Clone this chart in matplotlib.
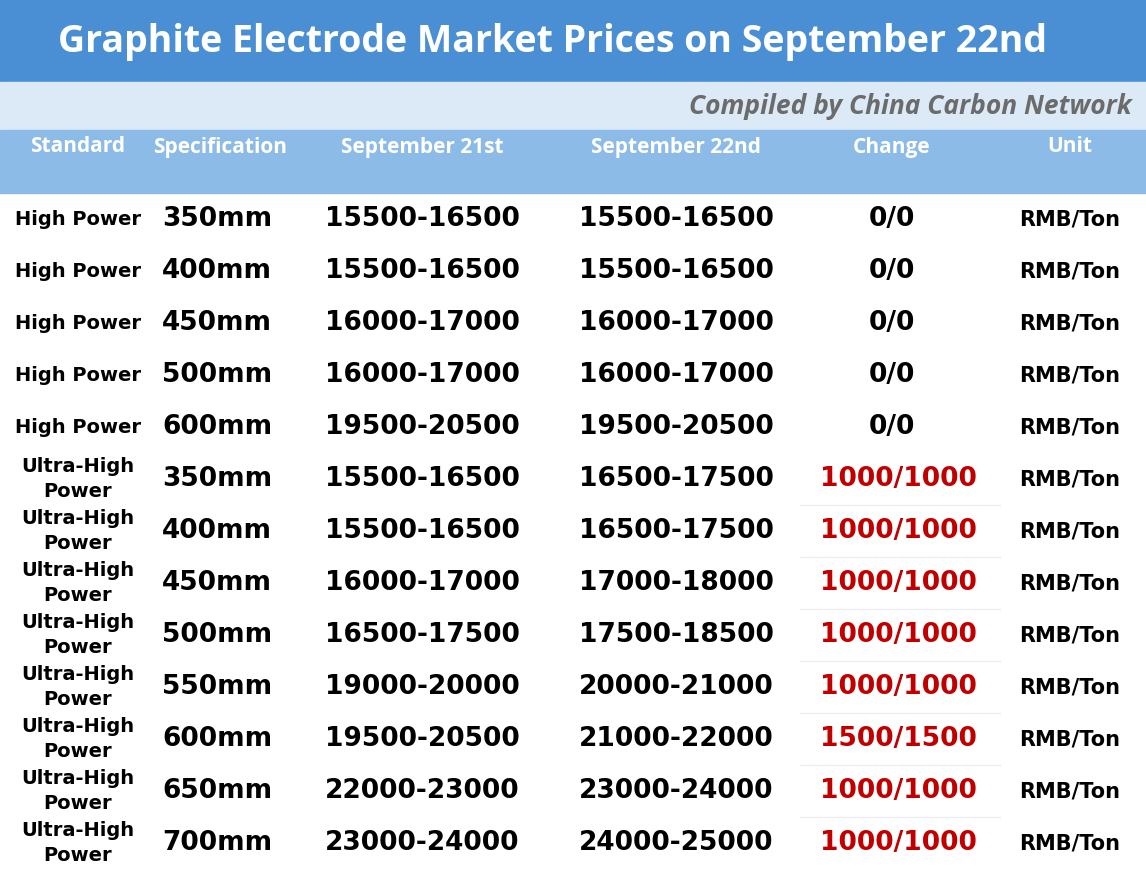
import matplotlib.pyplot as plt
from matplotlib.patches import Rectangle

title = "Graphite Electrode Market Prices on September 22nd"
subtitle = "Compiled by China Carbon Network"
headers = ["Standard", "Specification", "September 21st", "September 22nd", "Change", "Unit"]
standards = ["High Power"] * 5 + ["Ultra-High\nPower"] * 8
specs = ["350mm", "400mm", "450mm", "500mm", "600mm",
         "350mm", "400mm", "450mm", "500mm", "550mm", "600mm", "650mm", "700mm"]
sep21 = ["15500-16500", "15500-16500", "16000-17000", "16000-17000", "19500-20500",
         "15500-16500", "15500-16500", "16000-17000", "16500-17500", "19000-20000",
         "19500-20500", "22000-23000", "23000-24000"]
sep22 = ["15500-16500", "15500-16500", "16000-17000", "16000-17000", "19500-20500",
         "16500-17500", "16500-17500", "17000-18000", "17500-18500", "20000-21000",
         "21000-22000", "23000-24000", "24000-25000"]
change = ["0/0"] * 5 + ["1000/1000"] * 5 + ["1500/1500"] + ["1000/1000"] * 2
unit = ["RMB/Ton"] * 13

W, H = 1146, 872
fig = plt.figure(figsize=(W / 100, H / 100), dpi=100)
ax = fig.add_axes([0, 0, 1, 1])
ax.set_xlim(0, W)
ax.set_ylim(H, 0)
ax.axis("off")

ax.add_patch(Rectangle((0, 0), W, 82, color="#4a8fd4"))
ax.add_patch(Rectangle((0, 82), W, 48, color="#dce9f6"))
ax.add_patch(Rectangle((0, 130), W, 63, color="#8dbbe8"))
ax.text(552, 42, title, ha="center", va="center", color="white",
        fontsize=27, fontweight="bold", family="Open Sans")
ax.text(1132, 106, subtitle, ha="right", va="center", color="#6b6b6b",
        fontsize=19, fontweight="bold", style="italic", family="Open Sans")

col_x = [78, 220, 422, 676, 892, 1070]
for x, h in zip(col_x, headers):
    ax.text(x, 147, h, ha="center", va="center", color="white",
            fontsize=15, fontweight="bold", family="Open Sans")

y0, rh = 193, 52
for i in range(len(specs)):
    yc = y0 + rh * i + rh / 2
    ax.text(col_x[0], yc, standards[i], ha="center", va="center",
            fontsize=14, fontweight="bold", linespacing=1.45, family="DejaVu Sans")
    ax.text(col_x[1] - 3, yc, specs[i], ha="center", va="center",
            fontsize=19, fontweight="bold", family="DejaVu Sans")
    ax.text(col_x[2], yc, sep21[i], ha="center", va="center",
            fontsize=19, fontweight="bold", family="DejaVu Sans")
    ax.text(col_x[3], yc, sep22[i], ha="center", va="center",
            fontsize=19, fontweight="bold", family="DejaVu Sans")
    red = change[i] != "0/0"
    ax.text(898 if red else col_x[4], yc, change[i], ha="center", va="center",
            fontsize=19, fontweight="bold", family="DejaVu Sans",
            color="#c00000" if red else "black")
    ax.text(col_x[5], yc, unit[i], ha="center", va="center",
            fontsize=15, fontweight="bold", family="DejaVu Sans")
    if i >= 6:
        ax.plot([800, 1000], [yc - rh / 2, yc - rh / 2], color="#eeeeee", lw=1)

fig.savefig("out.png", dpi=100)
